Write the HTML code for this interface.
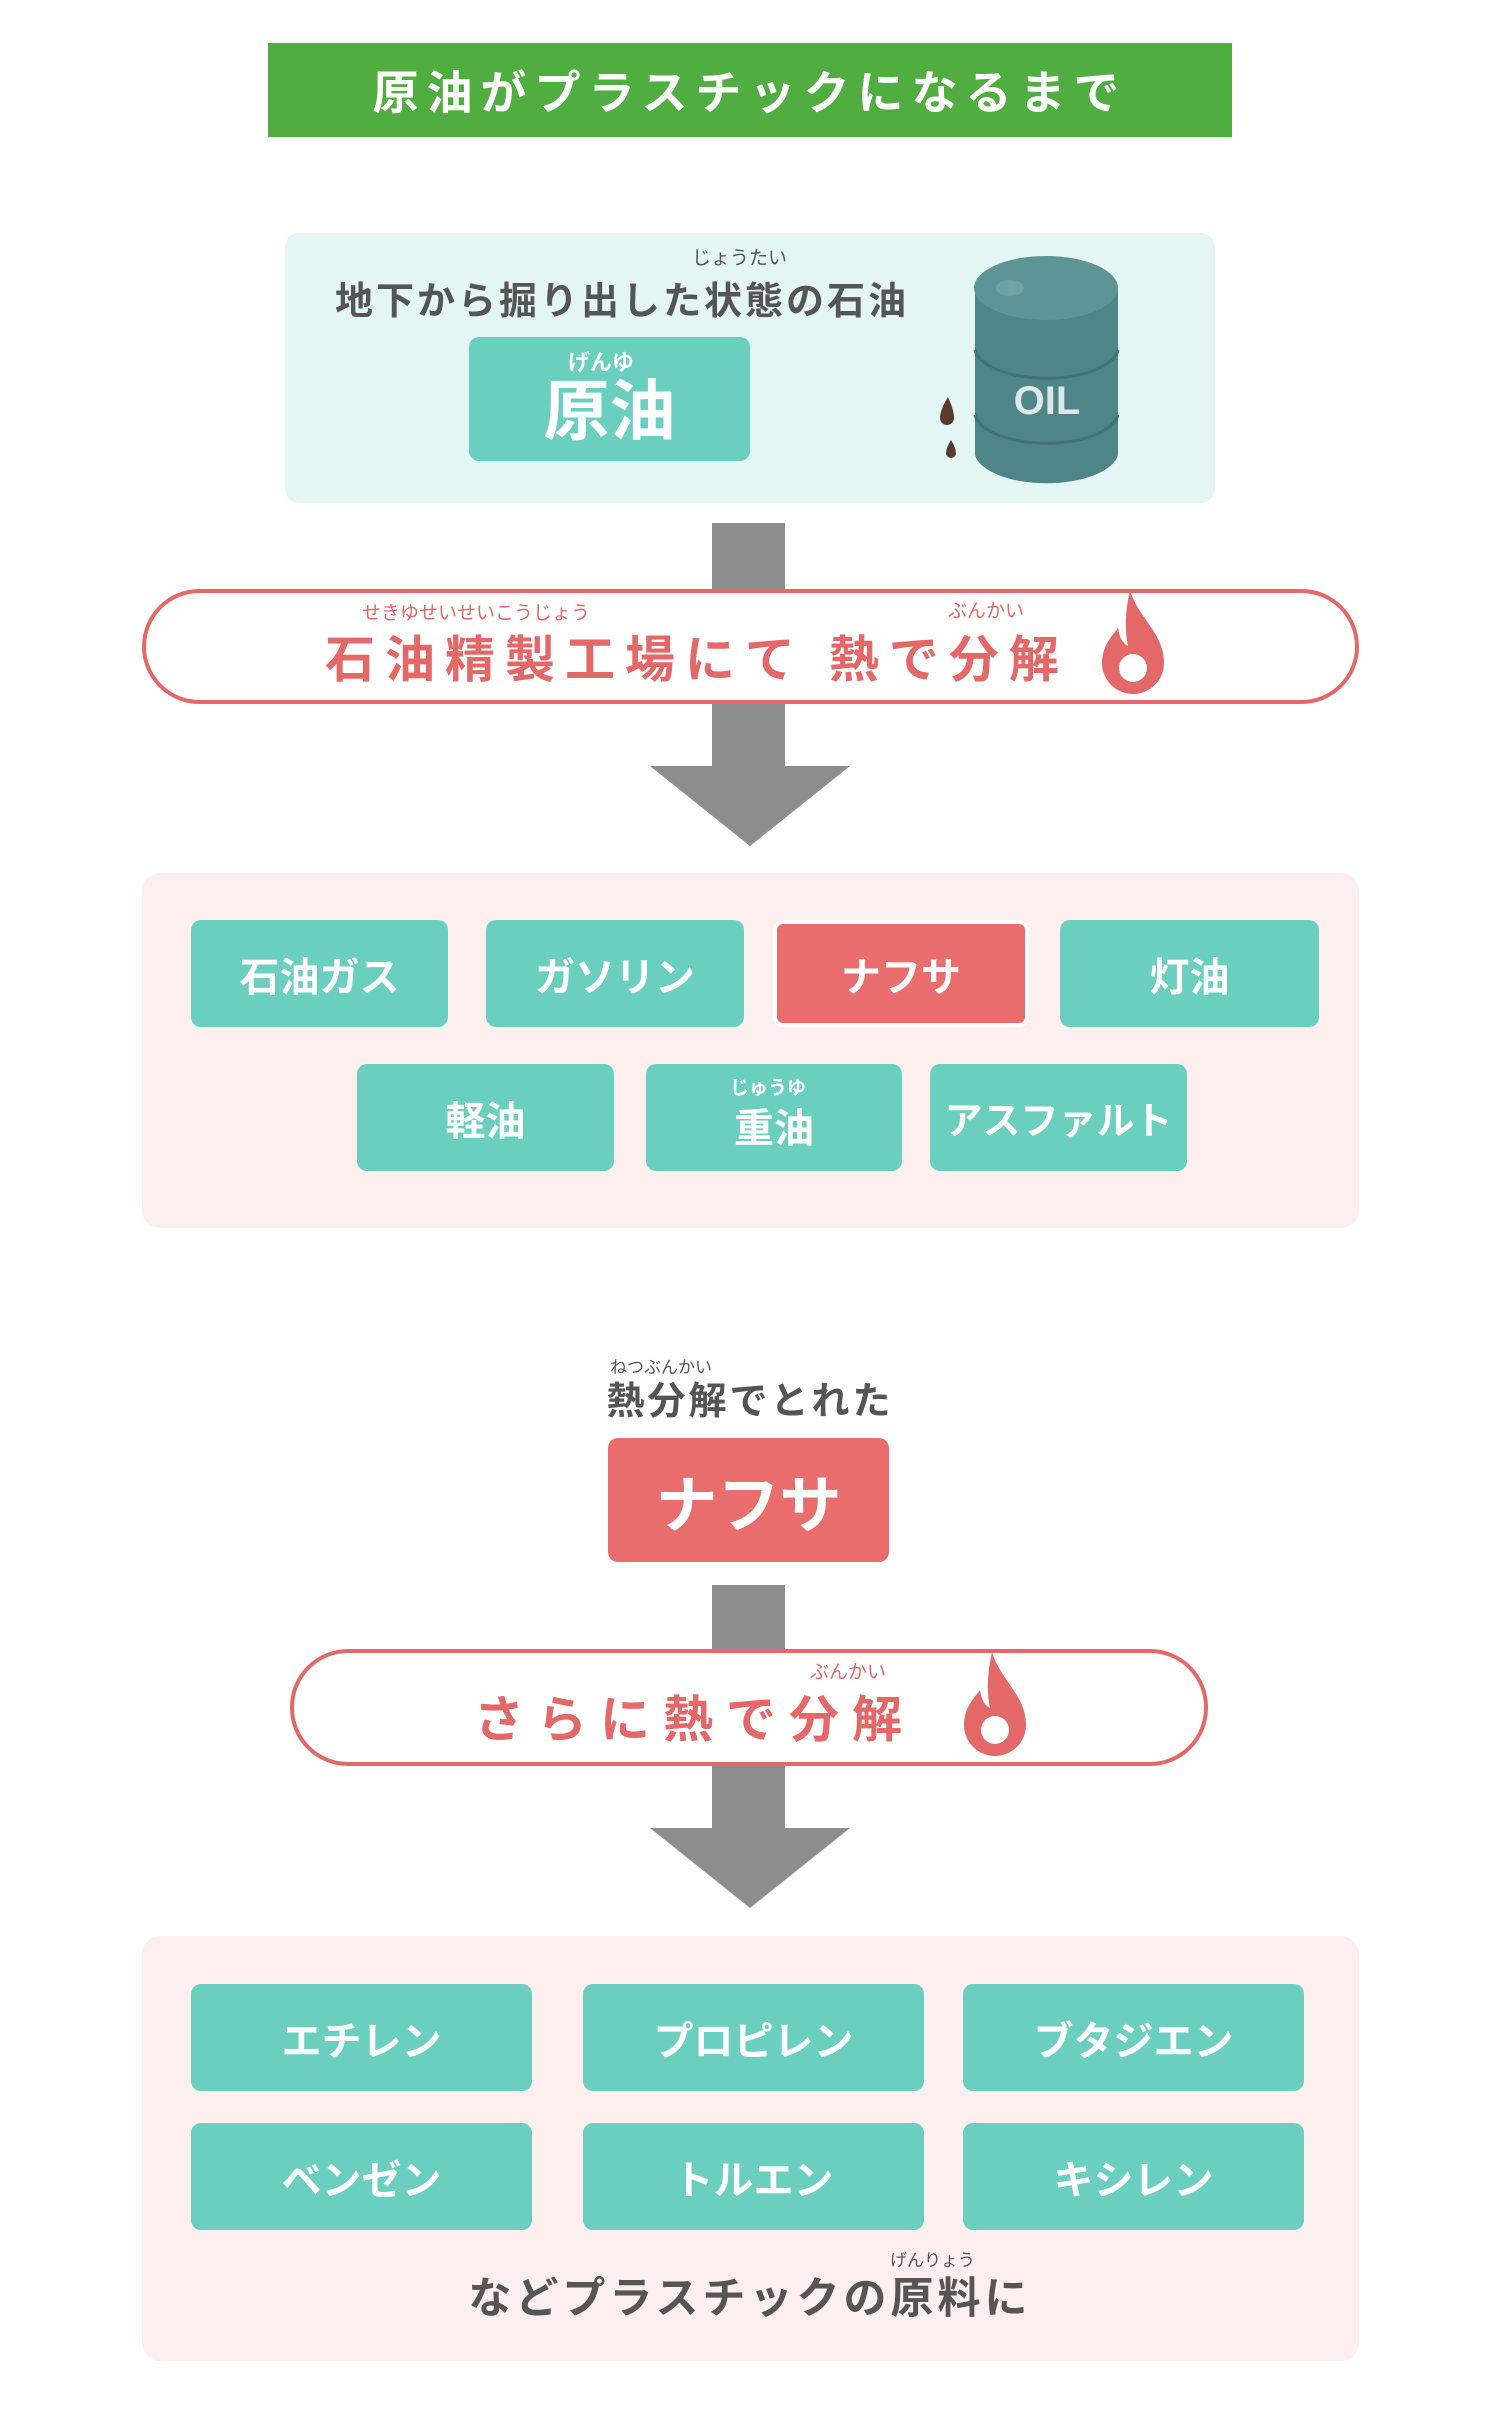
<!DOCTYPE html>
<html><head><meta charset="utf-8">
<style>
*{margin:0;padding:0;box-sizing:border-box}
body{width:1500px;height:2435px;background:#fff;position:relative;overflow:hidden;font-family:"Liberation Sans","Noto Sans CJK JP",sans-serif;font-weight:bold}
.a{position:absolute}
.c{display:flex;align-items:center;justify-content:center;text-align:center}
.t{background:#6bcfbf;border-radius:10px;color:#fff;font-size:40px}
.r{background:#e96d6d}
.rb{font-size:19px;font-weight:normal;color:#555;position:absolute;white-space:nowrap}
</style></head><body>
<div class="a c" style="left:268px;top:43px;width:964px;height:94px;background:#4fae3f;color:#fff;font-size:46px;letter-spacing:8px">原油がプラスチックになるまで</div>

<div class="a" style="left:285px;top:233px;width:930px;height:270px;background:#e4f6f3;border-radius:14px"></div>
<div class="rb" style="left:692px;top:243px">じょうたい</div>
<div class="a" style="left:335px;top:270px;font-size:38px;letter-spacing:3px;color:#555;white-space:nowrap">地下から掘り出した状態の石油</div>
<div class="a t c" style="left:469px;top:337px;width:281px;height:124px;font-size:66px;padding-top:14px">原油</div>
<div class="rb" style="left:568px;top:345px;color:#fff;font-weight:bold;font-size:22px">げんゆ</div>
<svg class="a" style="left:930px;top:250px" width="200" height="245">
<path d="M45 38 L45 205 A72 32 0 0 0 188 205 L188 38 Z" fill="#4d8588"/>
<ellipse cx="116" cy="38" rx="72" ry="32" fill="#5d9597"/>
<ellipse cx="80" cy="38" rx="14" ry="8" fill="#6ea3a4"/>
<path d="M45 100 A72 32 0 0 0 188 100 M45 165 A72 32 0 0 0 188 165" stroke="#3f7376" stroke-width="3" fill="none"/>
<text x="117" y="164" fill="#dde9e8" font-size="40" font-weight="bold" text-anchor="middle" font-family="Liberation Sans">OIL</text>
<path d="M18 147 Q24 160 24 168 A7 7 0 0 1 10 168 Q10 160 18 147Z" fill="#5a3a2c"/>
<path d="M21 190 Q26 198 26 203 A5 5 0 0 1 16 203 Q16 198 21 190Z" fill="#5a3a2c"/>
</svg>

<!-- arrow 1 -->
<div class="a" style="left:712px;top:523px;width:73px;height:250px;background:#8d8d8d"></div>
<svg class="a" style="left:650px;top:766px" width="200" height="82"><polygon points="0,0 200,0 100,80" fill="#8d8d8d"/></svg>
<div class="a" style="left:142px;top:589px;width:1217px;height:115px;border:4px solid #e46868;border-radius:58px;background:#fff"></div>
<div class="rb" style="left:362px;top:598px;color:#e46868">せきゆせいせいこうじょう</div>
<div class="rb" style="left:948px;top:596px;color:#e46868">ぶんかい</div>
<div class="a" style="left:325px;top:620px;font-size:50px;color:#e46868;letter-spacing:10px;white-space:nowrap">石油精製工場にて 熱で分解</div>
<svg class="a" style="left:1098px;top:588px" width="70" height="110"><path d="M32 2 C40 30 66 45 66 75 A31 31 0 0 1 4 75 C4 58 14 48 20 40 C22 52 26 56 30 58 C26 40 28 20 32 2Z" fill="#e46868"/><circle cx="35" cy="80" r="14" fill="#fff"/></svg>

<!-- box 1 -->
<div class="a" style="left:142px;top:873px;width:1217px;height:355px;background:#fcefee;border-radius:18px"></div>
<div class="a t c" style="left:191px;top:920px;width:257px;height:107px">石油ガス</div>
<div class="a t c" style="left:486px;top:920px;width:258px;height:107px">ガソリン</div>
<div class="a t c r" style="left:773px;top:920px;width:256px;height:107px;border:4px solid #fff">ナフサ</div>
<div class="a t c" style="left:1060px;top:920px;width:259px;height:107px">灯油</div>
<div class="a t c" style="left:357px;top:1064px;width:257px;height:107px">軽油</div>
<div class="a t c" style="left:646px;top:1064px;width:256px;height:107px;padding-top:14px">重油</div>
<div class="rb" style="left:730px;top:1073px;color:#fff;font-weight:bold">じゅうゆ</div>
<div class="a t c" style="left:930px;top:1064px;width:257px;height:107px;font-size:38px">アスファルト</div>

<div class="rb" style="left:610px;top:1353px;font-size:17px">ねつぶんかい</div>
<div class="a c" style="left:500px;top:1374px;width:500px;height:46px;font-size:38px;letter-spacing:3px;color:#555">熱分解でとれた</div>
<div class="a t c r" style="left:608px;top:1438px;width:281px;height:124px;font-size:62px">ナフサ</div>

<!-- arrow 2 -->
<div class="a" style="left:712px;top:1585px;width:73px;height:250px;background:#8d8d8d"></div>
<svg class="a" style="left:650px;top:1828px" width="200" height="82"><polygon points="0,0 200,0 100,80" fill="#8d8d8d"/></svg>
<div class="a" style="left:290px;top:1649px;width:918px;height:117px;border:4px solid #e46868;border-radius:58px;background:#fff"></div>
<div class="rb" style="left:810px;top:1657px;color:#e46868">ぶんかい</div>
<div class="a" style="left:474px;top:1680px;font-size:50px;color:#e46868;letter-spacing:13px;white-space:nowrap">さらに熱で分解</div>
<svg class="a" style="left:960px;top:1650px" width="70" height="110"><path d="M32 2 C40 30 66 45 66 75 A31 31 0 0 1 4 75 C4 58 14 48 20 40 C22 52 26 56 30 58 C26 40 28 20 32 2Z" fill="#e46868"/><circle cx="35" cy="80" r="14" fill="#fff"/></svg>

<!-- box 2 -->
<div class="a" style="left:142px;top:1936px;width:1217px;height:425px;background:#fcefee;border-radius:18px"></div>
<div class="a t c" style="left:191px;top:1984px;width:341px;height:107px">エチレン</div>
<div class="a t c" style="left:583px;top:1984px;width:341px;height:107px">プロピレン</div>
<div class="a t c" style="left:963px;top:1984px;width:341px;height:107px">ブタジエン</div>
<div class="a t c" style="left:191px;top:2123px;width:341px;height:107px">ベンゼン</div>
<div class="a t c" style="left:583px;top:2123px;width:341px;height:107px">トルエン</div>
<div class="a t c" style="left:963px;top:2123px;width:341px;height:107px">キシレン</div>
<div class="rb" style="left:890px;top:2246px;font-size:17px">げんりょう</div>
<div class="a c" style="left:400px;top:2270px;width:700px;height:50px;font-size:43px;letter-spacing:4px;color:#555">などプラスチックの原料に</div>
</body></html>
